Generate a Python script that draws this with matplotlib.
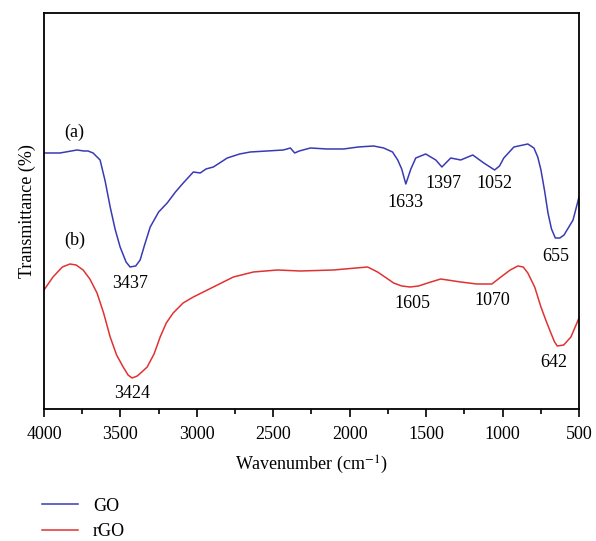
import matplotlib
matplotlib.use("Agg")
import matplotlib.pyplot as plt
from matplotlib.ticker import MultipleLocator

# wavenumber (cm^-1) and transmittance (arbitrary units)
go_wn = [4000, 3895, 3784, 3740, 3712, 3679, 3633, 3600, 3567, 3535, 3502, 3463, 3437,
         3400, 3371, 3340, 3305, 3250, 3194, 3140, 3089, 3023, 2978, 2940, 2892, 2801,
         2720, 2650, 2540, 2434, 2388, 2360, 2330, 2257, 2150, 2040, 1944, 1844, 1778,
         1720, 1686, 1660, 1633, 1600, 1568, 1503, 1437, 1397, 1339, 1274, 1195, 1123,
         1052, 1020, 992, 926, 835, 795, 770, 749, 725, 703, 680, 655, 625, 598, 539, 500]
go_t = [256, 256, 259, 258, 258, 256, 249, 228, 202, 180, 162, 147, 142,
        143, 149, 165, 182, 197, 206, 217, 226, 237, 236, 240, 242, 251,
        255, 257, 258, 259, 261, 256, 258, 261, 260, 260, 262, 263, 261,
        257, 249, 240, 225, 240, 251, 255, 249, 242, 251, 249, 254, 246,
        239, 243, 251, 262, 265, 261, 252, 239, 218, 196, 180, 171, 171, 174, 189, 212]

rgo_wn = [4000, 3941, 3880, 3830, 3790, 3744, 3700, 3653, 3610, 3567, 3525, 3482, 3450,
          3424, 3390, 3360, 3325, 3280, 3240, 3200, 3155, 3090, 3023, 2892, 2761, 2630,
          2473, 2322, 2106, 1883, 1818, 1760, 1713, 1660, 1605, 1550, 1490, 1405, 1274,
          1170, 1070, 1011, 950, 900, 865, 835, 790, 749, 715, 684, 660, 642, 600, 553, 500]
rgo_t = [119, 132, 142, 145, 144, 139, 130, 116, 96, 72, 54, 42, 34,
         31, 33, 37, 42, 55, 72, 86, 96, 106, 112, 122, 132, 137,
         139, 138, 139, 142, 137, 131, 126, 123, 122, 123, 126, 130, 127,
         125, 125, 132, 139, 143, 142, 136, 122, 102, 88, 76, 67, 63, 64, 72, 91]

go_peaks = [3437, 1633, 1397, 1052, 655]
rgo_peaks = [3424, 1605, 1070, 642]

plt.rcParams['font.family'] = ['Liberation Serif', 'DejaVu Serif']
plt.rcParams['font.size'] = 13
plt.rcParams['mathtext.fontset'] = 'stix'

fig = plt.figure(figsize=(5.96, 5.41), dpi=100)
ax = fig.add_axes([0.0738, 0.244, 0.8977, 0.732])

blue = '#3a3ab4'
red = '#e03232'
ax.plot(go_wn, go_t, color=blue, lw=1.1, label='GO')
ax.plot(rgo_wn, rgo_t, color=red, lw=1.1, label='rGO')

ax.set_xlim(4000, 500)
ax.set_ylim(0, 396)
ax.xaxis.set_major_locator(MultipleLocator(500))
ax.xaxis.set_minor_locator(MultipleLocator(250))
ax.tick_params(axis='x', which='major', direction='out', length=6, width=1.2, pad=6)
ax.tick_params(axis='x', which='minor', direction='out', length=3.5, width=1.2)
ax.set_yticks([])
for s in ax.spines.values():
    s.set_linewidth(1.3)

ax.set_xlabel('Wavenumber (cm$^{-1}$)', labelpad=8)
ax.set_ylabel('Transmittance (%)', labelpad=6)

# peak labels (offsets in data units from each minimum)
go_offsets = {3437: (0, -8), 1633: (0, -10), 1397: (-12, -8), 1052: (0, -5), 655: (0, -10)}
for p in go_peaks:
    dx, dy = go_offsets[p]
    y = go_t[go_wn.index(p)]
    ax.text(p + dx, y + dy, str(p), ha='center', va='top')
rgo_offsets = {3424: (0, -7), 1605: (-17, -8), 1070: (0, -8), 642: (25, -8)}
for p in rgo_peaks:
    dx, dy = rgo_offsets[p]
    y = rgo_t[rgo_wn.index(p)]
    ax.text(p + dx, y + dy, str(p), ha='center', va='top')

ax.text(3800, 268, '(a)', ha='center', va='bottom')
ax.text(3800, 160, '(b)', ha='center', va='bottom')

fig.legend(loc='lower left', bbox_to_anchor=(0.059, -0.012), frameon=False,
           handlelength=2.0, handletextpad=0.8, labelspacing=0.48, borderaxespad=0)

fig.savefig('out.png', dpi=100)
